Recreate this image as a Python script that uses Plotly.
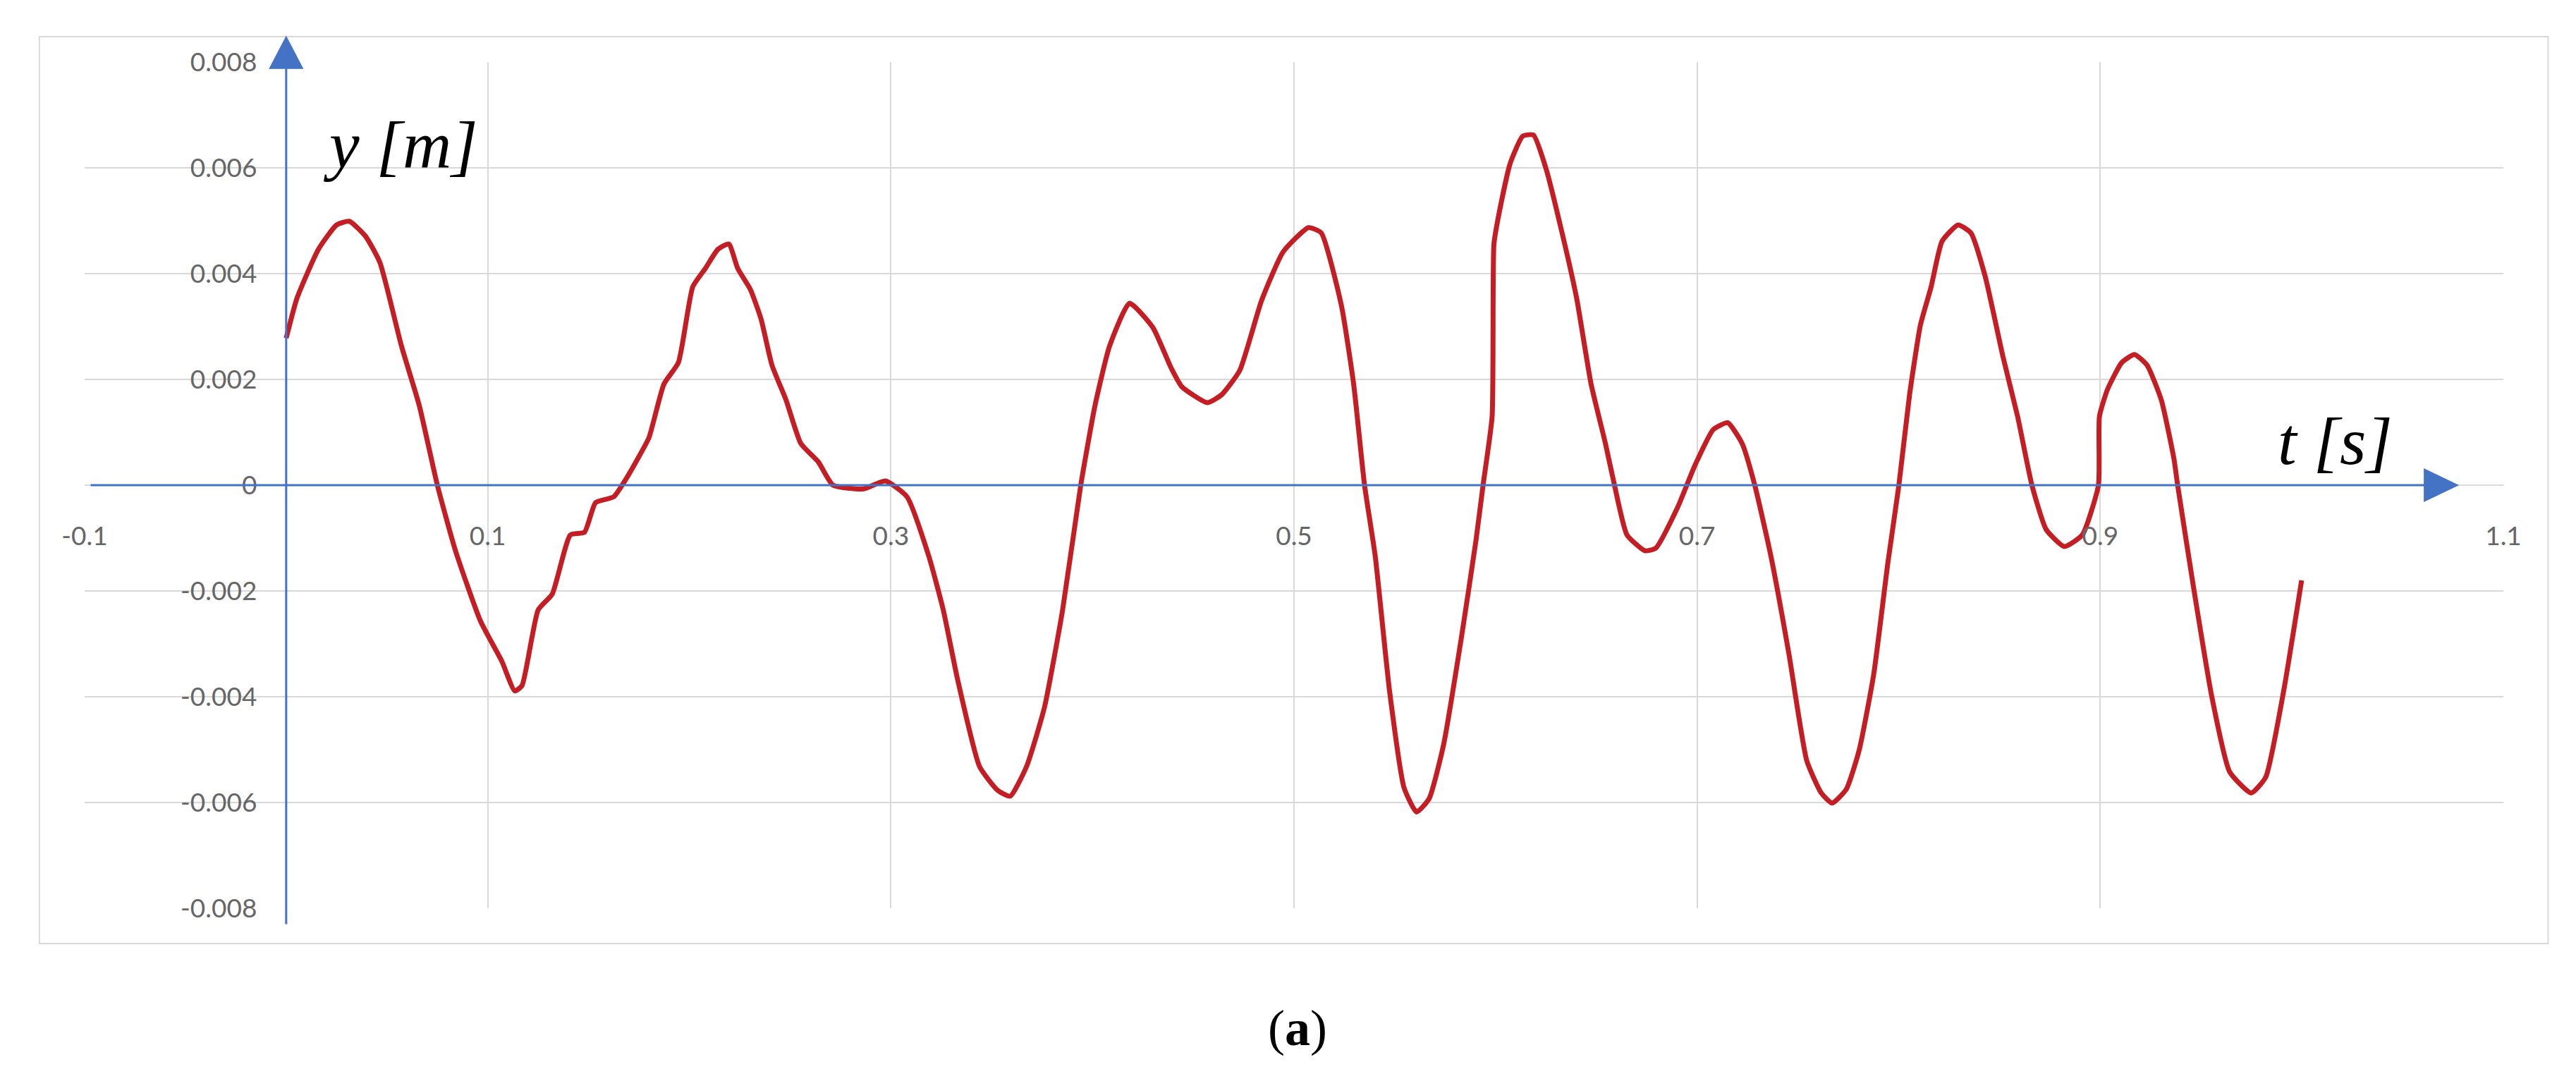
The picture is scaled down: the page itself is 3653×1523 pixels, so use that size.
import plotly.graph_objects as go

# time [s] and displacement [m]
T = [
    0.000, 0.0054, 0.016, 0.025, 0.0313, 0.0393, 0.0465, 0.0572, 0.066, 0.075,
    0.084, 0.0964, 0.107, 0.1134, 0.117, 0.125, 0.132, 0.141, 0.148, 0.1535,
    0.1625, 0.168, 0.175, 0.180, 0.1874, 0.1946, 0.2017, 0.208, 0.2142, 0.2196,
    0.224, 0.2303, 0.2356, 0.241, 0.248, 0.2553, 0.264, 0.2713, 0.2865, 0.2973,
    0.308, 0.3188, 0.326, 0.3332, 0.344, 0.353, 0.3592, 0.3673, 0.3762, 0.3852,
    0.3942, 0.4013, 0.4085, 0.4184, 0.430, 0.439, 0.4444, 0.457, 0.4641, 0.4731,
    0.4839, 0.4946, 0.5072, 0.5135, 0.5235, 0.5296, 0.535, 0.5403, 0.5474, 0.5546,
    0.5608, 0.567, 0.5742, 0.5831, 0.5903, 0.5938, 0.5983, 0.5992, 0.6019, 0.6073,
    0.6135, 0.6188, 0.625, 0.633, 0.6402, 0.6474, 0.6545, 0.659, 0.6652, 0.6741,
    0.6795, 0.6902, 0.6991, 0.708, 0.7152, 0.7223, 0.7286, 0.7366, 0.7455, 0.7544,
    0.7616, 0.767, 0.774, 0.7804, 0.7876, 0.7947, 0.8001, 0.8054, 0.8108, 0.8161,
    0.8215, 0.8295, 0.8358, 0.8429, 0.8518, 0.859, 0.8661, 0.8732, 0.8822, 0.8911,
    0.8991, 0.8996, 0.9036, 0.9107, 0.917, 0.9232, 0.9303, 0.9366, 0.9384, 0.9464,
    0.9553, 0.9642, 0.9749, 0.9821, 0.991, 0.9999,
]
Y = [
    0.00278, 0.00354, 0.00446, 0.00492, 0.00499, 0.00471, 0.00421, 0.00263, 0.00151, 0.0,
    -0.00124, -0.00257, -0.00333, -0.00389, -0.00379, -0.00236, -0.00206, -0.00094, -0.00089, -0.00033,
    -0.00022, 0.00008, 0.00054, 0.0009, 0.00191, 0.00232, 0.00375, 0.0041, 0.00446, 0.00456,
    0.0041, 0.0037, 0.00314, 0.00227, 0.00161, 0.00079, 0.00044, 0.0, -0.00007, 0.00008,
    -0.00022, -0.00134, -0.00236, -0.00369, -0.00532, -0.00577, -0.00588, -0.00532, -0.0042, -0.00236,
    0.0, 0.00151, 0.00263, 0.00344, 0.00298, 0.00222, 0.00186, 0.00156, 0.00171, 0.00217,
    0.00349, 0.00441, 0.00487, 0.00477, 0.0034, 0.00191, 0.0, -0.00134, -0.00389, -0.00572,
    -0.00618, -0.00593, -0.00491, -0.00287, -0.00104, 0.0, 0.0013, 0.00456, 0.00517, 0.00609,
    0.0066, 0.00662, 0.00599, 0.00477, 0.00354, 0.00191, 0.00079, 0.0, -0.00094, -0.00124,
    -0.00119, -0.00043, 0.00039, 0.00105, 0.00118, 0.00079, 0.0, -0.00134, -0.00318, -0.00521,
    -0.00582, -0.00601, -0.00575, -0.00501, -0.00358, -0.00145, 0.0, 0.00171, 0.00303, 0.00375,
    0.00461, 0.00492, 0.00477, 0.00395, 0.00242, 0.0013, 0.0, -0.00084, -0.00116, -0.00094,
    0.0, 0.0013, 0.00181, 0.00232, 0.00247, 0.00227, 0.00161, 0.00049, 0.0, -0.00196,
    -0.00399, -0.00542, -0.00582, -0.00552, -0.00389, -0.0018,
]

X_TICKS = [-0.1, 0.1, 0.3, 0.5, 0.7, 0.9, 1.1]
X_LABELS = ["-0.1", "0.1", "0.3", "0.5", "0.7", "0.9", "1.1"]
Y_TICKS = [-0.008, -0.006, -0.004, -0.002, 0.0, 0.002, 0.004, 0.006, 0.008]
Y_LABELS = ["-0.008", "-0.006", "-0.004", "-0.002", "0", "0.002", "0.004", "0.006", "0.008"]

X_RANGE = [-0.1, 1.1]
Y_RANGE = [-0.008, 0.008]

AXIS_BLUE = "#4472C4"
GRID = "#D9D9D9"
LABEL_GREY = "#666666"


def px(t):
    """data x -> paper x"""
    return (t - X_RANGE[0]) / (X_RANGE[1] - X_RANGE[0])


def py(v):
    """data y -> paper y"""
    return (v - Y_RANGE[0]) / (Y_RANGE[1] - Y_RANGE[0])


fig = go.Figure()
fig.add_trace(
    go.Scatter(
        x=T,
        y=Y,
        mode="lines",
        line={"color": "#C41E24", "width": 7, "shape": "spline", "smoothing": 0.5},
        hoverinfo="x+y",
    )
)

# Excel-style axes with arrowheads (paper coords, so they may leave the plot area)
x0 = px(0.0)
y0 = py(0.0)
shapes = [
    # outer chart frame
    {"type": "rect", "xref": "paper", "yref": "paper",
     "x0": -0.0187, "x1": 1.0185, "y0": -0.0417, "y1": 1.03,
     "line": {"color": GRID, "width": 2}, "layer": "below"},
    # vertical axis
    {"type": "line", "xref": "paper", "yref": "paper",
     "x0": x0, "x1": x0, "y0": py(-0.0083), "y1": py(0.0079),
     "line": {"color": AXIS_BLUE, "width": 3}},
    # horizontal axis
    {"type": "line", "xref": "paper", "yref": "paper",
     "x0": px(-0.097), "x1": px(1.062), "y0": y0, "y1": y0,
     "line": {"color": AXIS_BLUE, "width": 3}},
    # arrowhead up
    {"type": "path", "xref": "paper", "yref": "paper",
     "path": f"M {px(-0.0086)},{py(0.00787)} L {px(0.0086)},{py(0.00787)} L {x0},{py(0.0085)} Z",
     "fillcolor": AXIS_BLUE, "line": {"width": 0}},
    # arrowhead right
    {"type": "path", "xref": "paper", "yref": "paper",
     "path": f"M {px(1.0605)},{py(0.00032)} L {px(1.0605)},{py(-0.00032)} L {px(1.078)},{y0} Z",
     "fillcolor": AXIS_BLUE, "line": {"width": 0}},
]

annotations = [
    {"text": "<i>y [m]</i>", "x": 0.0567, "y": 0.00644, "xref": "x", "yref": "y",
     "xanchor": "center", "yanchor": "middle", "showarrow": False,
     "font": {"family": "Liberation Serif", "size": 96, "color": "black"}},
    {"text": "<i>t [s]</i>", "x": 1.0164, "y": 0.00083, "xref": "x", "yref": "y",
     "xanchor": "center", "yanchor": "middle", "showarrow": False,
     "font": {"family": "Liberation Serif", "size": 96, "color": "black"}},
    {"text": "(<b>a</b>)", "x": 0.5015, "y": -0.1417, "xref": "paper", "yref": "paper",
     "xanchor": "center", "yanchor": "middle", "showarrow": False,
     "font": {"family": "Liberation Serif", "size": 72, "color": "black"}},
]

fig.update_layout(
    width=3653,
    height=1523,
    margin={"l": 120, "r": 103, "t": 88, "b": 235},
    paper_bgcolor="white",
    plot_bgcolor="white",
    showlegend=False,
    font={"family": "Lato", "size": 37, "color": LABEL_GREY},
    shapes=shapes,
    annotations=annotations,
    xaxis={
        "range": X_RANGE,
        "tickvals": X_TICKS,
        "ticktext": X_LABELS,
        "showgrid": True,
        "gridcolor": GRID,
        "gridwidth": 2,
        "zeroline": False,
        "showline": False,
        "anchor": "free",
        "position": y0,
        "ticks": "outside",
        "ticklen": 40,
        "tickcolor": "rgba(0,0,0,0)",
    },
    yaxis={
        "range": Y_RANGE,
        "tickvals": Y_TICKS,
        "ticktext": Y_LABELS,
        "showgrid": True,
        "gridcolor": GRID,
        "gridwidth": 2,
        "zeroline": False,
        "showline": False,
        "anchor": "free",
        "position": x0,
        "ticks": "outside",
        "ticklen": 34,
        "tickcolor": "rgba(0,0,0,0)",
    },
)

fig.write_html(
    "out.html",
    config={"displayModeBar": False},
    post_script="document.body.style.margin='0';",
)
